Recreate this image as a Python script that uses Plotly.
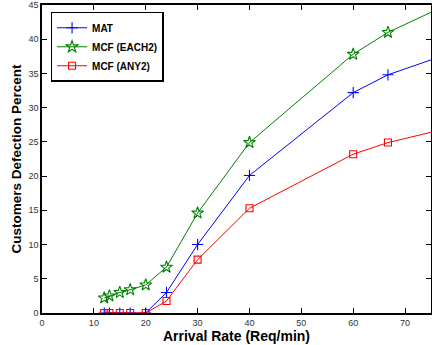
import plotly.graph_objects as go

x_rate = [12, 13, 15, 17, 20, 24, 30, 40, 60, 66.7, 80]
mat = [0, 0, 0, 0, 0, 3.0, 10.0, 20.1, 32.2, 34.8, 38.3]
mcf_each2 = [2.2, 2.5, 3.0, 3.4, 4.1, 6.7, 14.6, 24.9, 37.8, 41.0, 45.7]
mcf_any2 = [0, 0, 0, 0, 0, 1.75, 7.8, 15.3, 23.2, 24.9, 27.3]

names = ["MAT", "MCF (EACH2)", "MCF (ANY2)"]
colors = ["#0000ff", "#008000", "#ff0000"]
symbols = ["cross-thin-open", "star-open", "square-open"]
sizes = [8, 9, 7]
series = [mat, mcf_each2, mcf_any2]

x_ticks = [0, 10, 20, 30, 40, 50, 60, 70]
y_ticks = [0, 5, 10, 15, 20, 25, 30, 35, 40, 45]

FONT = "Liberation Sans, Arial, sans-serif"

fig = go.Figure()
for name, col, sym, sz, ys in zip(names, colors, symbols, sizes, series):
    fig.add_trace(go.Scatter(
        x=x_rate, y=ys, name=name, mode="lines+markers",
        line=dict(color=col, width=1),
        marker=dict(symbol=sym, size=sz, color=col, line=dict(color=col, width=1.1)),
    ))

axis_common = dict(
    showgrid=False, zeroline=False, showline=True, linecolor="black", linewidth=1.5,
    mirror="ticks", ticks="inside", ticklen=5, tickcolor="black", tickwidth=1,
    automargin=False,
    tickfont=dict(family=FONT, size=9, color="#333333"),
)

fig.update_layout(
    width=432, height=345,
    margin=dict(l=42, r=1, t=5, b=32),
    paper_bgcolor="white", plot_bgcolor="white",
    showlegend=True,
    legend=dict(
        x=0.022, y=0.978, xanchor="left", yanchor="top",
        bgcolor="white", bordercolor="black", borderwidth=1.5,
        font=dict(family=FONT, size=10, color="black", weight="bold"),
        tracegroupgap=0, itemwidth=30,
    ),
    xaxis=dict(range=[0, 75], tickvals=x_ticks, ticktext=[str(v) for v in x_ticks],
               title=dict(text="Arrival Rate (Req/min)", standoff=5,
                          font=dict(family=FONT, size=14, color="black", weight="bold")),
               **axis_common),
    yaxis=dict(range=[0, 45], tickvals=y_ticks, ticktext=[str(v) for v in y_ticks],
               title=dict(text="Customers Defection Percent", standoff=4,
                          font=dict(family=FONT, size=13.5, color="black", weight="bold")),
               **axis_common),
)

fig.write_html("out.html", config={"displayModeBar": False},
               post_script="document.body.style.margin='0';document.body.style.overflow='hidden';")
